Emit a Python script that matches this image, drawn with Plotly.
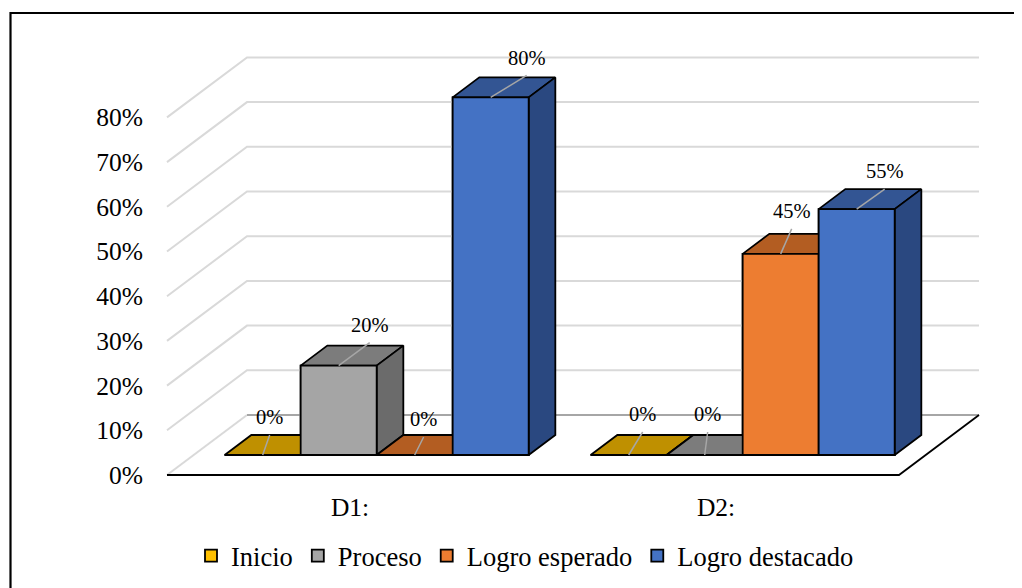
"""Logro por dimension: pseudo-3D column chart drawn on cartesian axes."""

import plotly.graph_objects as go

CATEGORIES = ["D1:", "D2:"]
SERIES = ["Inicio", "Proceso", "Logro esperado", "Logro destacado"]
INICIO = [0, 0]
PROCESO = [20, 0]
LOGRO_ESPERADO = [0, 45]
LOGRO_DESTACADO = [80, 55]
VALUES = [INICIO, PROCESO, LOGRO_ESPERADO, LOGRO_DESTACADO]
Y_TICKS = [0, 10, 20, 30, 40, 50, 60, 70, 80]
Y_TICK_LABELS = ["0%", "10%", "20%", "30%", "40%", "50%", "60%", "70%", "80%"]

FRONT_COLORS = ["#FFC000", "#A5A5A5", "#ED7D31", "#4472C4"]
TOP_COLORS = ["#BF9000", "#7C7C7C", "#B35D22", "#335593"]
SIDE_COLORS = ["#A67D00", "#6B6B6B", "#9B5120", "#2A4880"]

# label leader ends, px from the middle of the bar's front top edge (per series, per category)
LEADER_DX = [[7, 14], [31, 3], [9, 11], [36, 28]]
LEADER_DY = [[20, 23], [23, 23], [18, 25], [22, 20]]
LABEL_GAP = 16

# the page body has an 8px margin, everything below is in figure px
PAGE_MARGIN = 8
WIDTH, HEIGHT = 1022 - PAGE_MARGIN, 588 - PAGE_MARGIN
PLOT_LEFT, PLOT_RIGHT, PLOT_TOP, PLOT_BOTTOM = 140, 977, 32, 472
FLOOR_X, FLOOR_Y = 159, 467
PX_PER_CAT = 366
PX_PER_PCT = 4.47

# depth of the floor, in axis units
DEPTH_X = 80 / PX_PER_CAT
DEPTH_Y = 60 / PX_PER_PCT
BAR_WIDTH = 76 / PX_PER_CAT
BAR_MARGIN = 31 / PX_PER_CAT
FRONT_D, BACK_D = 1 / 3, 2 / 3


def project(u, v, d):
    return u + d * DEPTH_X, v + d * DEPTH_Y


def add_poly(xs, ys, points):
    for u, v, d in points:
        x, y = project(u, v, d)
        xs.append(x)
        ys.append(y)
    xs.append(None)
    ys.append(None)


def add_faces(fig, series_index):
    faces = {"top": ([], []), "side": ([], []), "front": ([], [])}
    for cat_index, value in enumerate(VALUES[series_index]):
        x0 = cat_index + BAR_MARGIN + series_index * BAR_WIDTH
        x1 = x0 + BAR_WIDTH
        add_poly(*faces["top"], [(x0, value, FRONT_D), (x1, value, FRONT_D), (x1, value, BACK_D), (x0, value, BACK_D), (x0, value, FRONT_D)])
        add_poly(*faces["side"], [(x1, 0, FRONT_D), (x1, 0, BACK_D), (x1, value, BACK_D), (x1, value, FRONT_D), (x1, 0, FRONT_D)])
        add_poly(*faces["front"], [(x0, 0, FRONT_D), (x1, 0, FRONT_D), (x1, value, FRONT_D), (x0, value, FRONT_D), (x0, 0, FRONT_D)])
    colors = {
        "top": TOP_COLORS[series_index],
        "side": SIDE_COLORS[series_index],
        "front": FRONT_COLORS[series_index],
    }
    for face in ["top", "side", "front"]:
        xs, ys = faces[face]
        fig.add_trace(
            go.Scatter(
                x=xs,
                y=ys,
                mode="lines",
                fill="toself",
                fillcolor=colors[face],
                line={"color": "#000000", "width": 1.8},
                showlegend=False,
                hoverinfo="skip",
            )
        )


def paper_x(px):
    return (px - PLOT_LEFT) / (PLOT_RIGHT - PLOT_LEFT)


def paper_y(px):
    return (PLOT_BOTTOM - px) / (PLOT_BOTTOM - PLOT_TOP)


fig = go.Figure()

# real bars, they carry the legend; the faces are painted over them in depth order
for i, name in enumerate(SERIES):
    fig.add_trace(
        go.Bar(
            x=[c + BAR_MARGIN + (i + 0.5) * BAR_WIDTH + FRONT_D * DEPTH_X for c in range(len(CATEGORIES))],
            y=VALUES[i],
            base=FRONT_D * DEPTH_Y,
            width=BAR_WIDTH,
            name=name,
            marker={"color": FRONT_COLORS[i], "line": {"color": "#000000", "width": 1.8}},
        )
    )

# walls
grid_x, grid_y = [], []
for tick in Y_TICKS[1:]:
    add_poly(grid_x, grid_y, [(0, tick, 0), (0, tick, 1), (len(CATEGORIES), tick, 1)])
fig.add_trace(go.Scatter(x=grid_x, y=grid_y, mode="lines", line={"color": "#D9D9D9", "width": 2}, showlegend=False, hoverinfo="skip"))

# floor
wall_x, wall_y = [], []
add_poly(wall_x, wall_y, [(0, 0, 0), (0, 0, 1)])
fig.add_trace(go.Scatter(x=wall_x, y=wall_y, mode="lines", line={"color": "#D9D9D9", "width": 2}, showlegend=False, hoverinfo="skip"))
back_x, back_y = [], []
add_poly(back_x, back_y, [(0, 0, 1), (len(CATEGORIES), 0, 1)])
fig.add_trace(go.Scatter(x=back_x, y=back_y, mode="lines", line={"color": "#A6A6A6", "width": 2}, showlegend=False, hoverinfo="skip"))
edge_x, edge_y = [], []
add_poly(edge_x, edge_y, [(0, 0, 0), (len(CATEGORIES), 0, 0), (len(CATEGORIES), 0, 1)])
fig.add_trace(go.Scatter(x=edge_x, y=edge_y, mode="lines", line={"color": "#000000", "width": 1.8}, showlegend=False, hoverinfo="skip"))

for i in range(len(SERIES)):
    add_faces(fig, i)

# data labels and their leader lines
leader_x, leader_y, label_x, label_y, label_text = [], [], [], [], []
for i in range(len(SERIES)):
    for c, value in enumerate(VALUES[i]):
        x_mid = c + BAR_MARGIN + (i + 0.5) * BAR_WIDTH
        x0, y0 = project(x_mid, value, FRONT_D)
        x1 = x0 + LEADER_DX[i][c] / PX_PER_CAT
        y1 = y0 + LEADER_DY[i][c] / PX_PER_PCT
        leader_x += [x0, x1, None]
        leader_y += [y0, y1, None]
        label_x.append(x1)
        label_y.append(y1 + LABEL_GAP / PX_PER_PCT)
        label_text.append(f"{value}%")
fig.add_trace(go.Scatter(x=leader_x, y=leader_y, mode="lines", line={"color": "#A6A6A6", "width": 1.5}, showlegend=False, hoverinfo="skip"))
fig.add_trace(
    go.Scatter(
        x=label_x,
        y=label_y,
        mode="text",
        text=label_text,
        textposition="middle center",
        textfont={"size": 20.5, "color": "#000000"},
        showlegend=False,
        hoverinfo="skip",
    )
)

# the frame only shows on the top and left of the picture
fig.add_shape(type="line", xref="paper", yref="paper", x0=paper_x(2), x1=paper_x(WIDTH), y0=paper_y(5), y1=paper_y(5), line={"color": "#000000", "width": 2.2})
fig.add_shape(type="line", xref="paper", yref="paper", x0=paper_x(2.5), x1=paper_x(2.5), y0=paper_y(4), y1=paper_y(HEIGHT), line={"color": "#000000", "width": 2.2})

fig.update_layout(
    width=WIDTH,
    height=HEIGHT,
    margin={"l": PLOT_LEFT, "r": WIDTH - PLOT_RIGHT, "t": PLOT_TOP, "b": HEIGHT - PLOT_BOTTOM, "pad": 0, "autoexpand": False},
    paper_bgcolor="#FFFFFF",
    plot_bgcolor="#FFFFFF",
    font={"family": "Liberation Serif", "color": "#000000", "size": 25.5},
    barmode="overlay",
    legend={
        "orientation": "h",
        "x": paper_x(517),
        "xanchor": "center",
        "y": paper_y(548),
        "yanchor": "middle",
        "font": {"size": 26.5},
    },
)
fig.update_xaxes(
    range=[(PLOT_LEFT - FLOOR_X) / PX_PER_CAT, (PLOT_RIGHT - FLOOR_X) / PX_PER_CAT],
    tickvals=[c + 0.5 for c in range(len(CATEGORIES))],
    ticktext=CATEGORIES,
    showgrid=False,
    zeroline=False,
    showline=False,
    ticks="outside",
    ticklen=4,
    tickcolor="rgba(0,0,0,0)",
)
fig.update_yaxes(
    range=[(FLOOR_Y - PLOT_BOTTOM) / PX_PER_PCT, (FLOOR_Y - PLOT_TOP) / PX_PER_PCT],
    tickvals=Y_TICKS,
    ticktext=Y_TICK_LABELS,
    showgrid=False,
    zeroline=False,
    showline=False,
    ticks="",
    ticklabelstandoff=4,
)

fig.write_html("out.html")
